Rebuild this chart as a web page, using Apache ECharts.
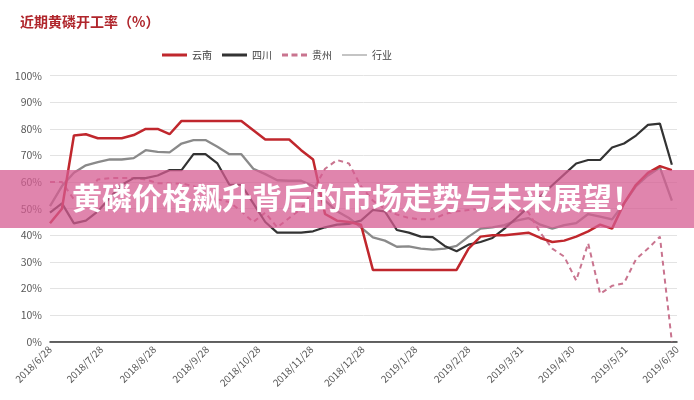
<!DOCTYPE html>
<html>
<head>
<meta charset="utf-8">
<script src="https://cdn.jsdelivr.net/npm/echarts@6/dist/echarts.min.js"></script>
<style>
html,body{margin:0;padding:0;background:#fff;}
#chart{width:694px;height:400px;}
</style>
</head>
<body>
<div id="chart"></div>
<script>
// weekly observation dates
var dates = [
 '2018/6/28','2018/7/5','2018/7/12','2018/7/19','2018/7/26','2018/8/2','2018/8/9','2018/8/16','2018/8/23','2018/8/30',
 '2018/9/6','2018/9/13','2018/9/20','2018/9/27','2018/10/4','2018/10/11','2018/10/18','2018/10/25','2018/11/1','2018/11/8',
 '2018/11/15','2018/11/22','2018/11/29','2018/12/6','2018/12/13','2018/12/20','2018/12/27','2019/1/3','2019/1/10','2019/1/17',
 '2019/1/24','2019/1/31','2019/2/7','2019/2/14','2019/2/21','2019/2/28','2019/3/7','2019/3/14','2019/3/21','2019/3/28',
 '2019/4/4','2019/4/11','2019/4/18','2019/4/25','2019/5/2','2019/5/9','2019/5/16','2019/5/23','2019/5/30','2019/6/6',
 '2019/6/13','2019/6/20','2019/6/27'
];
// 云南
var yunnan = [
 44.5,50,77.5,78,76.5,76.5,76.5,77.7,80,80,
 78,83,83,83,83,83,83,79.5,76,76,
 76,72,68.5,48,45.5,45,44,27,27,27,
 27,27,27,27,27,35,39.5,40,40,40.5,
 41,39,37.5,38,39.5,41.5,44,42.5,52,59,
 63.5,66,64.5
];
// 四川
var sichuan = [
 48.5,52,44.5,45.5,49,54,59,61.5,61.5,62.5,
 64.5,64.5,70.5,70.5,67,59,59,52,45,41,
 41,41,41.5,43,44,44.3,45.5,49.5,49,42,
 41,39.5,39.3,36,34,36.5,37.5,39,42.5,46.5,
 50.6,54.7,58.8,62.9,67,68.3,68.3,73,74.5,77.5,
 81.5,82,66.5
];
// 贵州
var guizhou = [
 60,60,53.5,55,61,61.5,61.5,61.5,61,59.6,
 59.5,59.5,58.5,56,53.5,52.5,49,45,48.5,43,
 46.5,50,57,65,68.3,67,58.5,53,50,47.8,
 46.5,46,46,48,49,49.5,50,50.3,50.5,49.5,
 48.7,41,35,32,23,37,18,21,22,31,
 35,39.5,0
];
// 行业
var hangye = [
 51,58.5,63.5,66.3,67.5,68.5,68.5,69,72,71.4,
 71.2,74.5,75.8,75.8,73.3,70.5,70.5,65,63,60.7,
 60.5,60.5,58.5,53,49,46.5,43,39.2,38,35.7,
 35.8,35,34.6,35,36,39.5,42.5,43,43.8,45.5,
 46.5,44,42.5,43.8,44.6,48,47,46,52,58.5,
 62.5,65.5,53
];
var tickLabels = ['2018/6/28','2018/7/28','2018/8/28','2018/9/28','2018/10/28','2018/11/28','2018/12/28',
 '2019/1/28','2019/2/28','2019/3/31','2019/4/30','2019/5/31','2019/6/30'];
var seriesNames = ['云南','四川','贵州','行业'];
var bannerText = '黄磷价格飙升背后的市场走势与未来展望！';

function ts(s){ return +echarts.number.parseDate(s); }
function pairs(vals){ return dates.map(function(d,i){ return [ts(d), vals[i]]; }); }
var tickValues = tickLabels.map(ts);

// legend icons (25x10 box, tiny corner slivers fix the bounding box)
var BOX = 'M0,0h0.01v0.01h-0.01z M24.99,9.99h0.01v0.01h-0.01z ';
var iconSolid = 'path://' + BOX + 'M0,3.5H25V6.5H0Z';
var iconDash = 'path://' + BOX + 'M0,3.5H6V6.5H0Z M9.5,3.5H15.5V6.5H9.5Z M19,3.5H25V6.5H19Z';
var iconThin = 'path://' + BOX + 'M0,4.5H25V5.5H0Z';

var FONT = "'Noto Sans CJK SC','Noto Sans',sans-serif";
var chart = echarts.init(document.getElementById('chart'), null, {renderer:'canvas'});
chart.setOption({
  animation:false,
  textStyle:{fontFamily:FONT},
  title:{
    text:'近期黄磷开工率（%）', left:15, top:10,
    textStyle:{fontSize:14, fontWeight:'bold', color:'#b0262c', fontFamily:FONT}
  },
  legend:{
    left:157, top:45, itemWidth:25, itemHeight:10, itemGap:10,
    textStyle:{fontSize:10, color:'#404040', fontFamily:FONT},
    data:[
      {name:'云南', icon:iconSolid},
      {name:'四川', icon:iconSolid},
      {name:'贵州', icon:iconDash},
      {name:'行业', icon:iconThin}
    ]
  },
  grid:{left:50, right:17, top:75.7, bottom:58.3, containLabel:false},
  xAxis:{
    type:'value',
    min:tickValues[0], max:tickValues[tickValues.length-1],
    axisLine:{show:true, onZero:false, lineStyle:{color:'#333', width:1.5}},
    axisTick:{show:false},
    splitLine:{show:false},
    axisLabel:{
      customValues:tickValues,
      rotate:45, fontSize:10, color:'#595959', margin:6, fontFamily:FONT,
      formatter:function(v){
        var i = tickValues.indexOf(v);
        return i>=0 ? tickLabels[i] : '';
      }
    }
  },
  yAxis:{
    type:'value', min:0, max:100, interval:10,
    axisLine:{show:false}, axisTick:{show:false},
    axisLabel:{formatter:'{value}%', fontSize:10.5, color:'#595959', margin:8, fontFamily:FONT},
    splitLine:{lineStyle:{color:'#e3e3e3', width:1}}
  },
  series:[
    {name:seriesNames[0], type:'line', symbol:'none', data:pairs(yunnan),
     lineStyle:{color:'#c0272d', width:2.5}, itemStyle:{color:'#c0272d'}, z:4},
    {name:seriesNames[1], type:'line', symbol:'none', data:pairs(sichuan),
     lineStyle:{color:'#333333', width:2.2}, itemStyle:{color:'#333333'}, z:3},
    {name:seriesNames[2], type:'line', symbol:'none', data:pairs(guizhou),
     lineStyle:{color:'#c9748f', width:2, type:[5,4]}, itemStyle:{color:'#c9748f'}, z:2},
    {name:seriesNames[3], type:'line', symbol:'none', data:pairs(hangye),
     lineStyle:{color:'#8a8a8a', width:2.3}, itemStyle:{color:'#8a8a8a'}, z:1}
  ],
  graphic:[
    {type:'rect', left:0, top:170, z:100, silent:true,
     shape:{width:694, height:58},
     style:{fill:'rgba(214,92,145,0.75)'}},
    {type:'text', left:72, top:183, z:101, silent:true,
     style:{text:bannerText, fill:'#ffffff', font:"bold 30px 'Noto Sans CJK SC', sans-serif"}}
  ]
});
</script>
</body>
</html>
